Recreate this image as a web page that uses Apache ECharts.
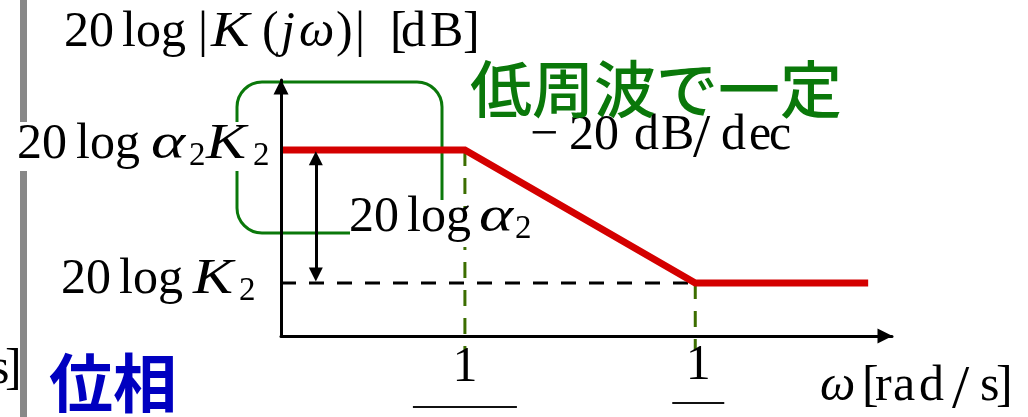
<!DOCTYPE html>
<html><head><meta charset="utf-8">
<script src="https://cdn.jsdelivr.net/npm/echarts@6/dist/echarts.min.js"></script>
<style>html,body{margin:0;padding:0;background:#fff}#c{width:1028px;height:417px}</style>
</head><body><div id="c"></div>
<script>
// Asymptotic gain curve (abstract log-frequency units, level units)
const breakX = [0, 3.01, 6.78, 9.61];
const gainLevel = [7.27, 7.27, 2.07, 2.07];
const levelK2 = 2.07;
const levelA2K2 = 7.27;
const cornerX = [3.01, 6.78];
const cornerTickLabels = ['1', '1'];
const guideBottom = -0.55;
const arrowX = 0.57;
const arrowInset = 0.33;

const noteText = '低周波で一定';
const phaseText = '位相';

const SERIF = '"Liberation Serif","DejaVu Serif",serif';
const CJK = '"Noto Sans CJK JP","Noto Sans CJK SC",sans-serif';
const FS = 50, SFS = 33, LFS = 62;

const chart = echarts.init(document.getElementById('c'), null, {renderer: 'canvas'});
const axisLine = {show: true, symbol: ['none', 'triangle'], symbolSize: [15, 15], symbolOffset: [0, -7],
  lineStyle: {color: '#000', width: 3}};
chart.setOption({
  animation: false,
  grid: {left: 281, right: 136, top: 80, bottom: 81, containLabel: false},
  xAxis: {type: 'value', min: 0, max: 10, z: 10, axisLine: axisLine, axisTick: {show: false}, axisLabel: {show: false}, splitLine: {show: false}},
  yAxis: {type: 'value', min: 0, max: 10, z: 10, axisLine: axisLine, axisTick: {show: false}, axisLabel: {show: false}, splitLine: {show: false}},
  series: [
    {type: 'line', name: 'K2 level', z: 3, clip: false, symbol: 'none',
     data: [[breakX[0], levelK2], [cornerX[1], levelK2]],
     lineStyle: {color: '#000', width: 3, type: [15, 13]}},
    {type: 'line', name: 'corner1', z: 3, clip: false, symbol: 'none',
     data: [[cornerX[0], levelA2K2], [cornerX[0], guideBottom]],
     lineStyle: {color: '#3c6e00', width: 3, type: [16, 12]}},
    {type: 'line', name: 'corner2', z: 3, clip: false, symbol: 'none',
     data: [[cornerX[1], levelK2], [cornerX[1], guideBottom]],
     lineStyle: {color: '#3c6e00', width: 3, type: [16, 12]}},
    {type: 'line', name: 'gain', z: 4, clip: false, symbol: 'none',
     data: breakX.map((x, k) => [x, gainLevel[k]]),
     lineStyle: {color: '#d40000', width: 7, join: 'miter'}},
    {type: 'line', name: 'diff', z: 8, data: [],
     markLine: {silent: true, symbol: ['triangle', 'triangle'], symbolSize: [14, 14], label: {show: false},
       lineStyle: {color: '#000', width: 3, type: 'solid'},
       data: [[{coord: [arrowX, levelA2K2 - arrowInset]}, {coord: [arrowX, levelK2 + arrowInset]}]]}}
  ]
});

const px = (x, y) => chart.convertToPixel({gridIndex: 0}, [x, y]);
const pA = px(0, levelA2K2), pK = px(0, levelK2);
const c1 = px(cornerX[0], 0), c2 = px(cornerX[1], 0);

const g = [];
// text helper: pieces [text, x, kind, scaleX] on a baseline; kind n=roman, i=italic, s=subscript, L=large (slash)
function seq(baseline, pieces, align) {
  pieces.forEach(([t, x, kind, sx]) => {
    const fs = kind === 's' ? SFS : (kind === 'L' ? LFS : FS);
    const bl = kind === 's' ? baseline + 5 : (kind === 'L' ? baseline + 8 : baseline);
    g.push({type: 'text', z: 30, x: x, y: bl - 0.3375 * fs, scaleX: sx || 1,
      style: {text: t, fontFamily: SERIF, fontSize: fs, fontStyle: kind === 'i' ? 'italic' : 'normal',
        fill: '#000', align: align || 'left', verticalAlign: 'middle'}});
  });
}
// grey slide divider
g.push({type: 'rect', z: 5, shape: {x: 20, y: 0, width: 7, height: 417}, style: {fill: '#888'}});
// green bracket (lines + rounded corners)
const GS = {stroke: '#0a780a', lineWidth: 3, fill: null};
const R = 25, L = 237, T = 82, Rt = 442, B = 233;
g.push({type: 'polyline', z: 1, shape: {points: [[Rt, 200], [Rt, T + R]]}, style: GS});
g.push({type: 'polyline', z: 1, shape: {points: [[Rt - R, T], [L + R, T]]}, style: GS});
g.push({type: 'polyline', z: 1, shape: {points: [[L, T + R], [L, B - R]]}, style: GS});
g.push({type: 'polyline', z: 1, shape: {points: [[L + R, B], [352, B]]}, style: GS});
g.push({type: 'arc', z: 1, shape: {cx: Rt - R, cy: T + R, r: R, startAngle: -Math.PI / 2, endAngle: 0}, style: GS});
g.push({type: 'arc', z: 1, shape: {cx: L + R, cy: T + R, r: R, startAngle: Math.PI, endAngle: Math.PI * 1.5}, style: GS});
g.push({type: 'arc', z: 1, shape: {cx: L + R, cy: B - R, r: R, startAngle: Math.PI / 2, endAngle: Math.PI}, style: GS});
// white masks behind labels
g.push({type: 'rect', z: 20, shape: {x: 12, y: 122, width: 260, height: 49}, style: {fill: '#fff'}});
g.push({type: 'rect', z: 20, shape: {x: 350, y: 209, width: 185, height: 38}, style: {fill: '#fff'}});

// axis title
seq(50, [['20', 64, 'n'], ['log', 122, 'n'], ['|', 198, 'n'], ['K', 211, 'i', 1.15], ['(', 262, 'n'], ['j', 281, 'i'],
         ['ω', 299, 'i'], [')', 336, 'n'], ['|', 355, 'n'], ['[', 390, 'n'], ['d', 401, 'n'], ['B', 430, 'n'], [']', 463, 'n']]);
// level labels (baselines follow the level pixel positions)
const blA = Math.round(pA[1]) + 12, blK = Math.round(pK[1]) + 14;
seq(blA, [['20', 17, 'n'], ['log', 76, 'n'], ['α', 151, 'i', 1.3], ['2', 189, 's'], ['K', 206, 'i', 1.2], ['2', 253, 's']]);
seq(blK, [['20', 61, 'n'], ['log', 119, 'n'], ['K', 193, 'i', 1.2], ['2', 239, 's']]);
seq(235, [['20', 349, 'n'], ['log', 407, 'n'], ['α', 479, 'i', 1.3], ['2', 515, 's']]);
seq(153, [['−', 530, 'n'], ['20', 569, 'n'], ['d', 634, 'n'], ['B', 661, 'n'], ['/', 693, 'L'], ['d', 721, 'n'], ['e', 749, 'n'], ['c', 769, 'n']]);
seq(404, [['ω', 820, 'i'], ['[', 862, 'n'], ['r', 875, 'n'], ['a', 893, 'n'], ['d', 919, 'n'], ['/', 952, 'L'], ['s', 980, 'n'], [']', 996, 'n']]);
seq(387, [['s', -10, 'n'], [']', 5, 'n']]);
// corner tick labels with fraction bars
const cs = [c1, c2];
const tickBl = [385, 383];
const barY = [407, 403];
const barW = [104, 52];
const barDx = [0, 3];
cs.forEach((c, k) => {
  seq(tickBl[k], [[cornerTickLabels[k], c[0] + barDx[k], 'n']], 'center');
  g.push({type: 'line', z: 30, shape: {x1: c[0] + barDx[k] - barW[k] / 2, y1: barY[k], x2: c[0] + barDx[k] + barW[k] / 2, y2: barY[k]}, style: {stroke: '#111', lineWidth: 2}});
});
// Japanese annotations
g.push({type: 'text', z: 30, x: 470, y: 89, style: {text: noteText, fontFamily: CJK, fontSize: 62, fontWeight: 500, fill: '#0a780a', align: 'left', verticalAlign: 'middle'}});
g.push({type: 'text', z: 30, x: 49, y: 383, style: {text: phaseText, fontFamily: CJK, fontSize: 64, fontWeight: 'bold', fill: '#0000c0', align: 'left', verticalAlign: 'middle'}});
chart.setOption({graphic: {elements: g}});
</script></body></html>
